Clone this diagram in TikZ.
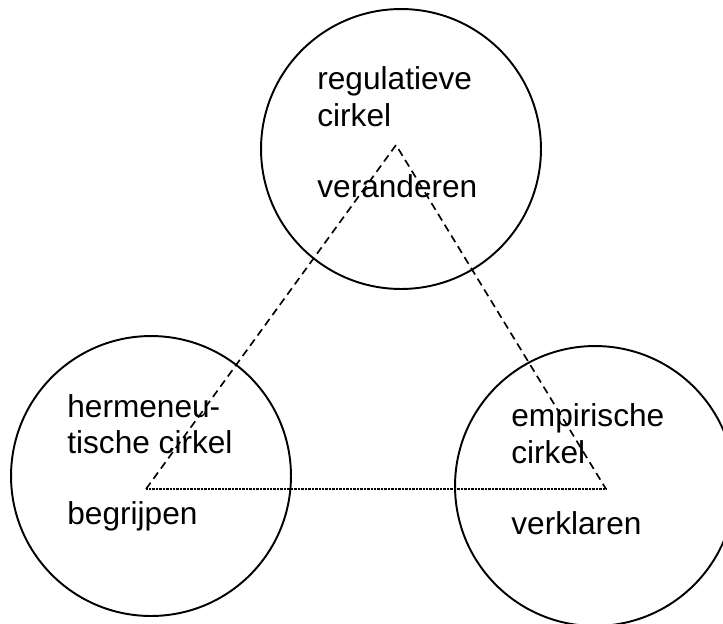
\documentclass[tikz,border=0pt]{standalone}
\usepackage{fontspec}
\setmainfont{Liberation Sans}
\usetikzlibrary{positioning}
\tikzstyle{cirkel} = [circle,draw=black,line width=1.1pt,inner sep=0pt,
minimum size=5.6cm]
\tikzstyle{tekst} = [anchor=base west,inner sep=0pt,align=left,
font=\fontsize{18}{20.5}\selectfont]
\tikzstyle{streep} = [line width=0.95pt, dash pattern=on 4.4pt off 2.8pt]
\tikzstyle{stip} = [line width=0.8pt, dash pattern=on 0.4pt off 0.4pt]
\begin{document}
\begin{tikzpicture}[x=0.02cm,y=-0.02cm]
  \clip (0,0) rectangle (723,623);
  \node[cirkel] (reg) at (401,149) {};
  \node[cirkel] (herm) at (151,476) {};
  \node[cirkel] (emp) at (595,486) {};

  \node[tekst, xshift=-1.68cm, yshift=0.46cm] at (reg) (regtitel) {regulatieve\\cirkel};
  \node[tekst, xshift=-1.68cm, yshift=-0.97cm] at (reg) (regwerk) {veranderen};
  \node[tekst, xshift=-1.68cm, yshift=0.46cm] at (herm) (hermtitel) {hermeneu-\\tische cirkel};
  \node[tekst, xshift=-1.68cm, yshift=-0.97cm] at (herm) (hermwerk) {begrijpen};
  \node[tekst, xshift=-1.68cm, yshift=0.46cm] at (emp) (emptitel) {empirische\\cirkel};
  \node[tekst, xshift=-1.68cm, yshift=-0.97cm] at (emp) (empwerk) {verklaren};

  \coordinate (top) at (396,145);
  \coordinate (links) at (146,489);
  \coordinate (rechts) at (606,489);
  \draw[streep] (links) -- (top) -- (rechts);
  \draw[stip] (links) -- (rechts);
\end{tikzpicture}
\end{document}
